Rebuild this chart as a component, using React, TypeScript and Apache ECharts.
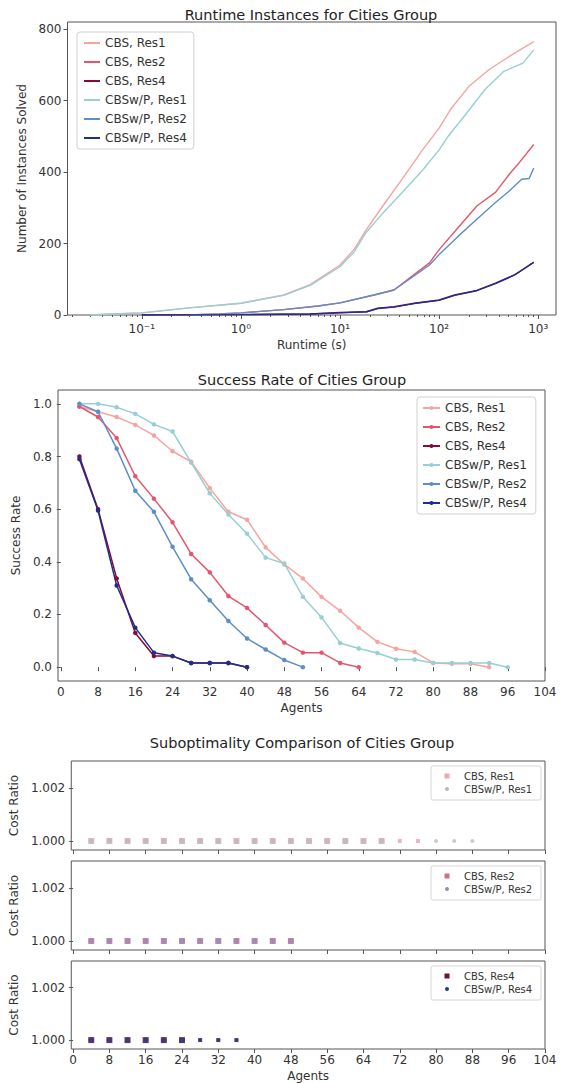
import React, { useEffect, useRef } from 'react';
import * as echarts from 'echarts';

const FONT = 'DejaVu Sans';
const seriesNames = ['CBS, Res1', 'CBS, Res2', 'CBS, Res4', 'CBSw/P, Res1', 'CBSw/P, Res2', 'CBSw/P, Res4'];
const seriesColors = ['#f5a5a0', '#e5566c', '#870a3c', '#96cfd5', '#5d8ec8', '#1c2f8e'];

// ---------- Runtime instances (top) ----------
const rtCbsRes1Time = [0.03, 0.05, 0.1, 0.3, 1, 2.7, 5, 10, 14, 18, 27, 43, 68, 100, 130, 200, 320, 540, 900];
const rtCbsRes1Solved = [0, 3, 6, 20, 33, 56, 85, 140, 185, 235, 305, 383, 462, 523, 575, 640, 687, 728, 765];
const rtCbsRes2Time = [0.3, 0.6, 1, 2.7, 6, 10, 22, 35, 53, 80, 100, 155, 240, 370, 525, 620, 900];
const rtCbsRes2Solved = [0, 3, 6, 15, 25, 34, 56, 70, 108, 146, 183, 244, 305, 343, 398, 421, 477];
const rtCbsRes4Time = [0.1, 1, 5, 10, 18.5, 24, 35, 56, 100, 143, 240, 370, 580, 900];
const rtCbsRes4Solved = [0, 1, 3, 7, 9, 19, 23, 33, 42, 56, 69, 89, 113, 147];
const rtWpRes1Time = [0.03, 0.05, 0.1, 0.3, 1, 2.7, 5, 10, 14, 18, 27, 43, 68, 100, 120, 185, 290, 450, 700, 900];
const rtWpRes1Solved = [0, 3, 6, 20, 33, 55, 83, 135, 178, 228, 285, 345, 405, 462, 496, 561, 631, 682, 705, 742];
const rtWpRes2Time = [0.3, 0.6, 1, 2.7, 6, 10, 22, 35, 53, 80, 100, 155, 240, 370, 500, 680, 810, 900];
const rtWpRes2Solved = [0, 3, 6, 15, 25, 34, 56, 70, 105, 140, 169, 220, 268, 315, 345, 380, 382, 411];
const rtWpRes4Time = [0.1, 1, 5, 10, 18.5, 24, 35, 56, 100, 143, 240, 370, 580, 900];
const rtWpRes4Solved = [0, 1, 3, 6, 9, 18, 22, 32, 41, 55, 68, 88, 112, 148];

const runtimeTimes = [rtCbsRes1Time, rtCbsRes2Time, rtCbsRes4Time, rtWpRes1Time, rtWpRes2Time, rtWpRes4Time];
const runtimeSolved = [rtCbsRes1Solved, rtCbsRes2Solved, rtCbsRes4Solved, rtWpRes1Solved, rtWpRes2Solved, rtWpRes4Solved];
const runtimeTicks = [0.1, 1, 10, 100, 1000];
const runtimeTickLabels = ['10⁻¹', '10⁰', '10¹', '10²', '10³'];
const runtimeMinorTicks = [
  0.02, 0.03, 0.04, 0.05, 0.06, 0.07, 0.08, 0.09,
  0.2, 0.3, 0.4, 0.5, 0.6, 0.7, 0.8, 0.9,
  2, 3, 4, 5, 6, 7, 8, 9,
  20, 30, 40, 50, 60, 70, 80, 90,
  200, 300, 400, 500, 600, 700, 800, 900,
];
const solvedTicks = [0, 200, 400, 600, 800];

// ---------- Success rate (middle) ----------
const srCbsRes1Agents = [4, 8, 12, 16, 20, 24, 28, 32, 36, 40, 44, 48, 52, 56, 60, 64, 68, 72, 76, 80, 84, 88, 92];
const srCbsRes1Rate = [0.99, 0.97, 0.95, 0.92, 0.88, 0.82, 0.78, 0.68, 0.59, 0.56, 0.455, 0.39, 0.337, 0.267, 0.214, 0.15, 0.096, 0.07, 0.058, 0.016, 0.013, 0.013, 0.0];
const srCbsRes2Agents = [4, 8, 12, 16, 20, 24, 28, 32, 36, 40, 44, 48, 52, 56, 60, 64];
const srCbsRes2Rate = [0.99, 0.95, 0.87, 0.725, 0.64, 0.55, 0.43, 0.36, 0.27, 0.225, 0.16, 0.093, 0.055, 0.055, 0.016, 0.0];
const srCbsRes4Agents = [4, 8, 12, 16, 20, 24, 28, 32, 36, 40];
const srCbsRes4Rate = [0.8, 0.6, 0.337, 0.13, 0.042, 0.042, 0.016, 0.016, 0.016, 0.0];
const srWpRes1Agents = [4, 8, 12, 16, 20, 24, 28, 32, 36, 40, 44, 48, 52, 56, 60, 64, 68, 72, 76, 80, 84, 88, 92, 96];
const srWpRes1Rate = [1.0, 1.0, 0.987, 0.962, 0.922, 0.895, 0.777, 0.66, 0.58, 0.507, 0.416, 0.394, 0.267, 0.189, 0.092, 0.071, 0.054, 0.029, 0.029, 0.016, 0.016, 0.016, 0.016, 0.0];
const srWpRes2Agents = [4, 8, 12, 16, 20, 24, 28, 32, 36, 40, 44, 48, 52];
const srWpRes2Rate = [1.0, 0.97, 0.83, 0.67, 0.59, 0.457, 0.334, 0.254, 0.175, 0.109, 0.067, 0.027, 0.0];
const srWpRes4Agents = [4, 8, 12, 16, 20, 24, 28, 32, 36, 40];
const srWpRes4Rate = [0.79, 0.595, 0.31, 0.15, 0.055, 0.042, 0.016, 0.016, 0.016, 0.0];

const srAgents = [srCbsRes1Agents, srCbsRes2Agents, srCbsRes4Agents, srWpRes1Agents, srWpRes2Agents, srWpRes4Agents];
const srRates = [srCbsRes1Rate, srCbsRes2Rate, srCbsRes4Rate, srWpRes1Rate, srWpRes2Rate, srWpRes4Rate];
const agentTicks = [0, 8, 16, 24, 32, 40, 48, 56, 64, 72, 80, 88, 96, 104];
const rateTicks = [0.0, 0.2, 0.4, 0.6, 0.8, 1.0];

// ---------- Suboptimality (bottom) ----------
const subCbsRes1Agents = [4, 8, 12, 16, 20, 24, 28, 32, 36, 40, 44, 48, 52, 56, 60, 64, 68, 72, 76];
const subCbsRes1Ratio = [1.0, 1.0, 1.0, 1.0, 1.0, 1.0, 1.0, 1.0, 1.0, 1.0, 1.0, 1.0, 1.0, 1.0, 1.0, 1.0, 1.0, 1.0, 1.0];
const subWpRes1Agents = [4, 8, 12, 16, 20, 24, 28, 32, 36, 40, 44, 48, 52, 56, 60, 64, 68, 80, 84, 88];
const subWpRes1Ratio = [1.0, 1.0, 1.0, 1.0, 1.0, 1.0, 1.0, 1.0, 1.0, 1.0, 1.0, 1.0, 1.0, 1.0, 1.0, 1.0, 1.0, 1.0, 1.0, 1.0];
const subCbsRes2Agents = [4, 8, 12, 16, 20, 24, 28, 32, 36, 40, 44, 48];
const subCbsRes2Ratio = [1.0, 1.0, 1.0, 1.0, 1.0, 1.0, 1.0, 1.0, 1.0, 1.0, 1.0, 1.0];
const subWpRes2Agents = [4, 8, 12, 16, 20, 24, 28, 32, 36, 40, 44, 48];
const subWpRes2Ratio = [1.0, 1.0, 1.0, 1.0, 1.0, 1.0, 1.0, 1.0, 1.0, 1.0, 1.0, 1.0];
const subCbsRes4Agents = [4, 8, 12, 16, 20, 24, 28, 32, 36];
const subCbsRes4Ratio = [1.0, 1.0, 1.0, 1.0, 1.0, 1.0, 1.0, 1.0, 1.0];
const subWpRes4Agents = [4, 8, 12, 16, 20, 24, 28, 32, 36];
const subWpRes4Ratio = [1.0, 1.0, 1.0, 1.0, 1.0, 1.0, 1.0, 1.0, 1.0];
const ratioTicks = [1.0, 1.002];

const subCbsColors = ['#eca7b1', '#d07085', '#6d0f3c'];
const subWpColors = ['#b2bcc2', '#8a90c0', '#223f86'];
const subLegendNames = [['CBS, Res1', 'CBSw/P, Res1'], ['CBS, Res2', 'CBSw/P, Res2'], ['CBS, Res4', 'CBSw/P, Res4']];

const zip = (xs: number[], ys: number[]) => xs.map((x, i) => [x, ys[i]]);

const TEXT = '#333';
const FRAME = '#555';

const labelStyle = { color: TEXT, fontSize: 12, fontFamily: FONT };
const nameStyle = { color: TEXT, fontSize: 12, fontFamily: FONT };

function buildOption() {
  const subTops = [761, 861, 961];
  const grids: any[] = [
    { left: 67.5, top: 22, width: 488.5, height: 293 },
    { left: 58, top: 390, width: 487, height: 291 },
    ...subTops.map((t) => ({ left: 64, top: t, width: 481, height: 89 })),
  ].map((g) => ({ ...g, show: true, borderColor: FRAME, borderWidth: 1, backgroundColor: 'transparent', containLabel: false }));

  const xAxes: any[] = [
    {
      gridIndex: 0, type: 'log', logBase: 10, min: 0.0178, max: 1510, position: 'bottom',
      axisLine: { show: false }, splitLine: { show: false },
      axisTick: { show: true, length: 4, lineStyle: { color: FRAME }, customValues: runtimeTicks },
      axisLabel: {
        ...labelStyle, margin: 8, customValues: runtimeTicks,
        formatter: (v: number) => runtimeTickLabels[runtimeTicks.indexOf(Math.pow(10, Math.round(Math.log10(v))))] ?? '',
      },
      name: 'Runtime (s)', nameLocation: 'middle', nameGap: 24, nameTextStyle: nameStyle,
    },
    {
      gridIndex: 0, type: 'log', logBase: 10, min: 0.0178, max: 1510, position: 'bottom',
      axisLine: { show: false }, splitLine: { show: false },
      axisTick: { show: true, length: 2, lineStyle: { color: FRAME }, customValues: runtimeMinorTicks },
      axisLabel: { show: false },
    },
    {
      gridIndex: 1, type: 'value', min: -0.6, max: 104,
      axisLine: { show: false }, splitLine: { show: false },
      axisTick: { show: true, length: 4, lineStyle: { color: FRAME }, customValues: agentTicks },
      axisLabel: { ...labelStyle, margin: 5, customValues: agentTicks },
      name: 'Agents', nameLocation: 'middle', nameGap: 21, nameTextStyle: nameStyle,
    },
    ...[2, 3, 4].map((gi) => ({
      gridIndex: gi, type: 'value', min: -0.4, max: 104,
      axisLine: { show: false }, splitLine: { show: false },
      axisTick: { show: true, length: 4, lineStyle: { color: FRAME }, customValues: agentTicks },
      axisLabel: gi === 4 ? { ...labelStyle, margin: 5, customValues: agentTicks } : { show: false },
      ...(gi === 4 ? { name: 'Agents', nameLocation: 'middle', nameGap: 21, nameTextStyle: nameStyle } : {}),
    })),
  ];

  const yAxes: any[] = [
    {
      gridIndex: 0, type: 'value', min: 0, max: 820,
      axisLine: { show: false }, splitLine: { show: false },
      axisTick: { show: true, length: 4, lineStyle: { color: FRAME }, customValues: solvedTicks },
      axisLabel: { ...labelStyle, margin: 6, customValues: solvedTicks },
      name: 'Number of Instances Solved', nameLocation: 'middle', nameGap: 32, nameRotate: 90, nameTextStyle: nameStyle,
    },
    {
      gridIndex: 1, type: 'value', min: -0.0526, max: 1.0526,
      axisLine: { show: false }, splitLine: { show: false },
      axisTick: { show: true, length: 4, lineStyle: { color: FRAME }, customValues: rateTicks },
      axisLabel: { ...labelStyle, margin: 6, customValues: rateTicks, formatter: (v: number) => v.toFixed(1) },
      name: 'Success Rate', nameLocation: 'middle', nameGap: 32, nameRotate: 90, nameTextStyle: nameStyle,
    },
    ...[2, 3, 4].map((gi) => ({
      gridIndex: gi, type: 'value', min: 0.99966, max: 1.00302,
      axisLine: { show: false }, splitLine: { show: false },
      axisTick: { show: true, length: 4, lineStyle: { color: FRAME }, customValues: ratioTicks },
      axisLabel: { ...labelStyle, margin: 6, customValues: ratioTicks, formatter: (v: number) => v.toFixed(3) },
      name: 'Cost Ratio', nameLocation: 'middle', nameGap: 45, nameRotate: 90, nameTextStyle: nameStyle,
    })),
  ];

  const series: any[] = [];
  seriesNames.forEach((n, i) => {
    series.push({
      type: 'line', name: 'rt|' + n, xAxisIndex: 0, yAxisIndex: 0,
      data: zip(runtimeTimes[i], runtimeSolved[i]),
      symbol: 'none', showSymbol: false,
      lineStyle: { color: seriesColors[i], width: 1.4 }, itemStyle: { color: seriesColors[i] },
      z: 3,
    });
  });
  seriesNames.forEach((n, i) => {
    series.push({
      type: 'line', name: 'sr|' + n, xAxisIndex: 2, yAxisIndex: 1,
      data: zip(srAgents[i], srRates[i]),
      symbol: 'circle', symbolSize: 4.5, showSymbol: true,
      lineStyle: { color: seriesColors[i], width: 1.5 }, itemStyle: { color: seriesColors[i] },
      z: 3,
    });
  });
  const subCbs = [zip(subCbsRes1Agents, subCbsRes1Ratio), zip(subCbsRes2Agents, subCbsRes2Ratio), zip(subCbsRes4Agents, subCbsRes4Ratio)];
  const subWp = [zip(subWpRes1Agents, subWpRes1Ratio), zip(subWpRes2Agents, subWpRes2Ratio), zip(subWpRes4Agents, subWpRes4Ratio)];
  const bigUntil = [68, 48, 24];
  [0, 1, 2].forEach((k) => {
    series.push({
      type: 'scatter', name: 'sub|' + subLegendNames[k][0], xAxisIndex: 3 + k, yAxisIndex: 2 + k,
      data: subCbs[k], symbol: 'rect',
      symbolSize: (v: number[]) => (v[0] <= bigUntil[k] ? 6 : 4),
      itemStyle: { color: subCbsColors[k], opacity: 0.85 }, z: 3,
    });
    series.push({
      type: 'scatter', name: 'sub|' + subLegendNames[k][1], xAxisIndex: 3 + k, yAxisIndex: 2 + k,
      data: subWp[k], symbol: 'circle',
      symbolSize: (v: number[]) => (v[0] <= bigUntil[k] ? 5.5 : 4),
      itemStyle: { color: subWpColors[k], opacity: 0.75 }, z: 4,
    });
  });

  const legendText = { color: TEXT, fontSize: 12, fontFamily: FONT };
  const legends: any[] = [
    {
      left: 77, top: 32, orient: 'vertical', itemWidth: 16, itemHeight: 2, itemGap: 7,
      padding: [5, 7, 5, 7], borderColor: '#d0d0d0', borderWidth: 1, borderRadius: 3, backgroundColor: '#fff',
      data: seriesNames.map((n) => ({ name: 'rt|' + n, icon: 'rect' })),
      formatter: (name: string) => name.split('|')[1], textStyle: legendText, selectedMode: false,
    },
    {
      left: 417, top: 397, orient: 'vertical', itemWidth: 17, itemHeight: 5, itemGap: 7,
      padding: [5, 9, 5, 5], borderColor: '#d0d0d0', borderWidth: 1, borderRadius: 3, backgroundColor: '#fff',
      data: seriesNames.map((n) => ({ name: 'sr|' + n })),
      formatter: (name: string) => name.split('|')[1], textStyle: legendText, selectedMode: false,
    },
  ];

  const graphics: any[] = [];
  subTops.forEach((t, k) => {
    graphics.push({
      type: 'rect', shape: { x: 431, y: t + 5, width: 110, height: 34, r: 2 },
      style: { fill: '#fff', stroke: '#d6d6d6', lineWidth: 1 }, z: 10,
    });
    graphics.push({
      type: 'rect', shape: { x: 444.5, y: t + 12.5, width: 5, height: 5 },
      style: { fill: subCbsColors[k] }, z: 11,
    });
    graphics.push({
      type: 'circle', shape: { cx: 447, cy: t + 28, r: 2 },
      style: { fill: subWpColors[k] }, z: 11,
    });
    graphics.push({
      type: 'text', x: 464, y: t + 15, style: { text: subLegendNames[k][0], fill: TEXT, fontSize: 10, fontFamily: FONT, verticalAlign: 'middle' }, z: 11,
    });
    graphics.push({
      type: 'text', x: 464, y: t + 28, style: { text: subLegendNames[k][1], fill: TEXT, fontSize: 10, fontFamily: FONT, verticalAlign: 'middle' }, z: 11,
    });
  });

  const titleStyle = { color: '#222', fontSize: 14.5, fontWeight: 'normal', fontFamily: FONT };
  return {
    animation: false,
    backgroundColor: '#fff',
    title: [
      { text: 'Runtime Instances for Cities Group', left: 311, top: 7, textAlign: 'center', padding: 0, textStyle: titleStyle },
      { text: 'Success Rate of Cities Group', left: 302, top: 372, textAlign: 'center', padding: 0, textStyle: titleStyle },
      { text: 'Suboptimality Comparison of Cities Group', left: 302, top: 735, textAlign: 'center', padding: 0, textStyle: titleStyle },
    ],
    grid: grids,
    xAxis: xAxes,
    yAxis: yAxes,
    legend: legends,
    series,
    graphic: graphics,
  };
}

export default function App() {
  const ref = useRef<HTMLDivElement>(null);
  useEffect(() => {
    if (!ref.current) return;
    const chart = echarts.init(ref.current, null, { renderer: 'svg' });
    chart.setOption(buildOption() as any);
    return () => chart.dispose();
  }, []);
  return (
    <div
      ref={ref}
      style={{ position: 'fixed', left: 0, top: 0, width: 564, height: 1083, background: '#fff' }}
    />
  );
}
